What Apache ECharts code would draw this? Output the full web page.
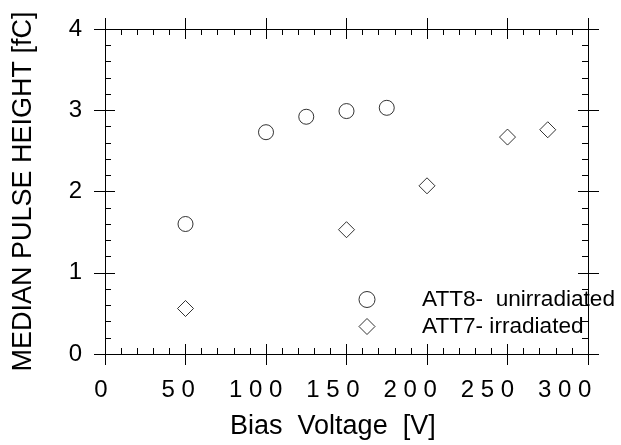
<!DOCTYPE html>
<html>
<head>
<meta charset="utf-8">
<script src="https://cdn.jsdelivr.net/npm/echarts@6/dist/echarts.min.js"></script>
<style>
html,body{margin:0;padding:0;background:#fff;}
#chart{width:621px;height:445px;}
</style>
</head>
<body>
<div id="chart"></div>
<script>
// Data
const seriesNames = ['ATT8-  unirradiated', 'ATT7- irradiated'];
const voltsUnirr = [50, 100, 125, 150, 175];
const heightUnirr = [1.60, 2.73, 2.92, 2.99, 3.03];
const voltsIrr = [50, 150, 200, 250, 275];
const heightIrr = [0.56, 1.53, 2.07, 2.67, 2.76];
const xTickLabels = ['0', '50', '100', '150', '200', '250', '300'];
const yTickLabels = ['0', '1', '2', '3', '4'];
const xTitle = 'Bias  Voltage  [V]';
const yTitle = 'MEDIAN PULSE HEIGHT [fC]';

const FONT = "'Liberation Sans', Arial, Helvetica, sans-serif";
const BLACK = '#000';

function pairs(xs, ys) { return xs.map((x, i) => [x, ys[i]]); }

const chart = echarts.init(document.getElementById('chart'), null, {renderer: 'canvas'});

const lineOn = {show: true, onZero: false, lineStyle: {color: BLACK, width: 1}};
const tickIn = {show: true, inside: true, length: 10, lineStyle: {color: BLACK, width: 1}};
const tickOut = {show: true, inside: false, length: 11, lineStyle: {color: BLACK, width: 1}};
const minorOn = {show: true, splitNumber: 5, length: 6, lineStyle: {color: BLACK, width: 1}};

function xAx(position, tick, minor) {
  return {
    type: 'value', gridIndex: 0, position: position, min: 0, max: 300, interval: 50,
    axisLine: lineOn, axisTick: tick, minorTick: minor ? minorOn : {show: false},
    axisLabel: {show: false}, splitLine: {show: false}
  };
}
function yAx(position, tick, minor) {
  return {
    type: 'value', gridIndex: 0, position: position, min: 0, max: 4, interval: 1,
    axisLine: lineOn, axisTick: tick, minorTick: minor ? minorOn : {show: false},
    axisLabel: {show: false}, splitLine: {show: false}
  };
}

const yMain = yAx('left', tickIn, true);
yMain.axisLabel = {
  show: true, margin: 23, color: BLACK, fontFamily: FONT, fontSize: 24,
  formatter: v => yTickLabels[Math.round(v)]
};
yMain.name = yTitle;
yMain.nameLocation = 'middle';
yMain.nameGap = 68;
yMain.nameTextStyle = {color: BLACK, fontFamily: FONT, fontSize: 27};

const option = {
  backgroundColor: '#fff',
  animation: false,
  grid: [
    {left: 105, width: 483, top: 29, height: 325, containLabel: false},
    {left: 101, width: 463.7, top: 29, height: 325, containLabel: false}
  ],
  xAxis: [
    xAx('bottom', tickIn, true),
    xAx('bottom', tickOut, false),
    xAx('top', tickIn, true),
    xAx('top', tickOut, false),
    {
      type: 'value', gridIndex: 1, position: 'bottom', min: 0, max: 300, interval: 50,
      axisLine: {show: false}, axisTick: {show: false}, splitLine: {show: false},
      axisLabel: {
        show: true, margin: 30, color: BLACK, fontFamily: FONT, fontSize: 24,
        formatter: v => xTickLabels[Math.round(v / 50)].split('').join(' ')
      },
      name: xTitle, nameLocation: 'middle', nameGap: 65,
      nameTextStyle: {color: BLACK, fontFamily: FONT, fontSize: 27}
    }
  ],
  yAxis: [
    yMain,
    yAx('left', tickOut, false),
    yAx('right', tickIn, true),
    yAx('right', tickOut, false),
    {type: 'value', gridIndex: 1, min: 0, max: 4, show: false}
  ],
  legend: {
    orient: 'vertical', left: 358.5, top: 288, padding: 0,
    itemWidth: 16, itemHeight: 16, itemGap: 4,
    selectedMode: false,
    itemStyle: {borderWidth: 1},
    textStyle: {color: BLACK, fontFamily: FONT, fontSize: 22.6, lineHeight: 22, padding: [0, 0, 0, 42]},
    data: seriesNames
  },
  series: [
    {
      name: seriesNames[0], type: 'scatter', xAxisIndex: 0, yAxisIndex: 0,
      symbol: 'circle', symbolSize: 15,
      itemStyle: {color: '#fff', borderColor: BLACK, borderWidth: 1},
      data: pairs(voltsUnirr, heightUnirr)
    },
    {
      name: seriesNames[1], type: 'scatter', xAxisIndex: 0, yAxisIndex: 0,
      symbol: 'diamond', symbolSize: 16,
      itemStyle: {color: '#fff', borderColor: BLACK, borderWidth: 1},
      data: pairs(voltsIrr, heightIrr)
    }
  ]
};
chart.setOption(option);
</script>
</body>
</html>
